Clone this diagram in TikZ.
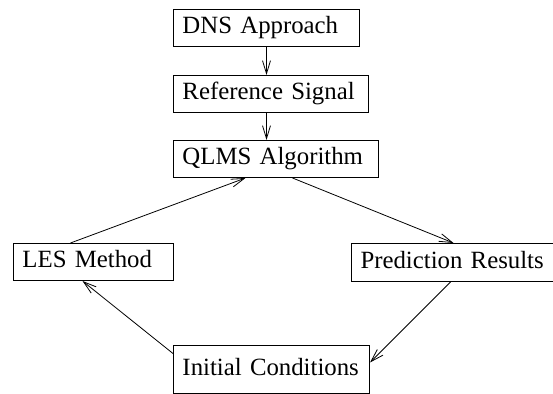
\documentclass[tikz,border=0pt]{standalone}
\usepackage{fontspec}
\setmainfont{Liberation Serif}
\usetikzlibrary{arrows.meta}

\begin{document}
\begin{tikzpicture}[x=0.5pt, y=-0.5pt,
    blk/.style={draw, line width=0.5pt, anchor=north west, inner xsep=4.5pt, inner ysep=0pt,
      align=left, text height=8.6pt, text depth=2.6pt, font=\fontsize{12.4}{14}\selectfont},
    arr/.style={-{Straight Barb[length=6.5pt,width=4pt]}, line width=0.4pt}]
  \useasboundingbox (0,0) rectangle (553,394);
  % boxes
  \node[blk, text width=84pt, minimum height=18.5pt] (dns) at (173,9) {DNS Approach};
  \node[blk, text width=88.5pt, minimum height=18.5pt] (ref) at (173,75) {Reference Signal};
  \node[blk, text width=93.5pt, minimum height=18.5pt] (qlms) at (173,140) {QLMS Algorithm};
  \node[blk, text width=71pt, minimum height=18.5pt] (les) at (13,243) {LES Method};
  \node[blk, text width=93pt, minimum height=19pt] (pred) at (351,243) {Prediction Results};
  \node[blk, text width=89pt, minimum height=24pt] (init) at (173,345) {Initial Conditions};
  % arrows
  \draw[arr] (dns.south) -- (dns.south |- ref.north);
  \draw[arr] (dns.south |- ref.south) -- (dns.south |- qlms.north);
  \draw[arr] ([xshift=8.25pt]qlms.south) -- (pred.north);
  \draw[arr] ([xshift=-11.5pt]les.north) -- ([xshift=-15.25pt]qlms.south);
  \draw[arr] ([xshift=-1.5pt]pred.south) -- ([yshift=3.5pt]init.east);
  \draw[arr] ([yshift=8pt]init.west) -- ([xshift=-5.5pt]les.south);
\end{tikzpicture}
\end{document}
